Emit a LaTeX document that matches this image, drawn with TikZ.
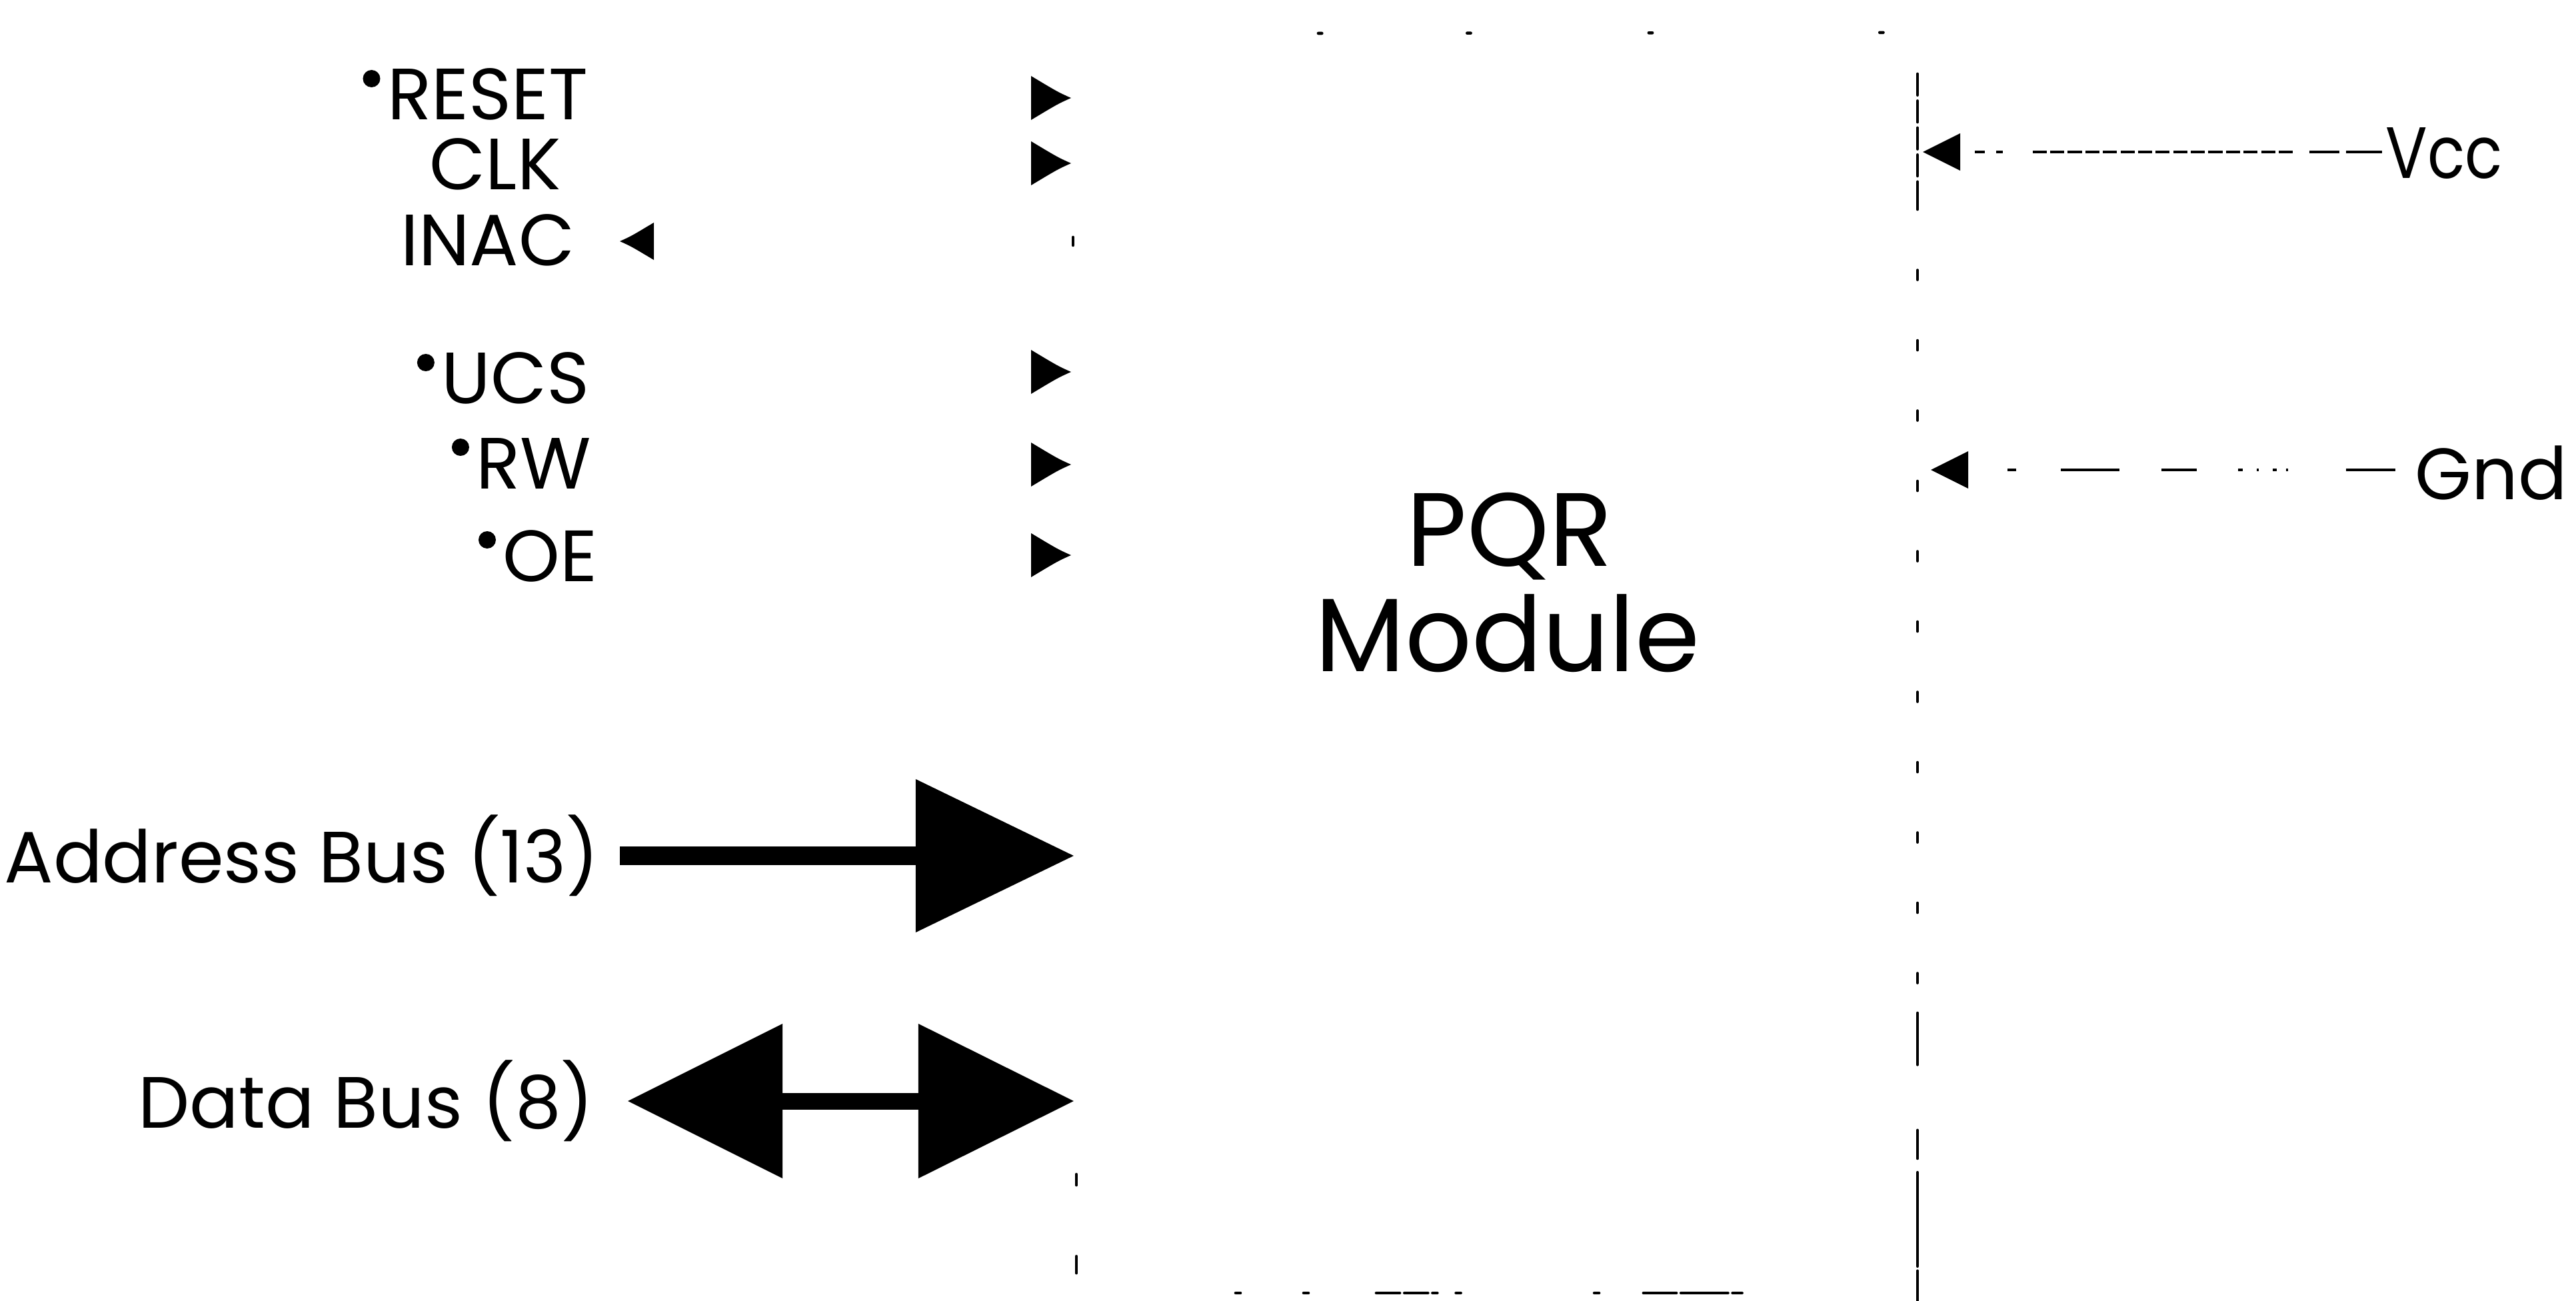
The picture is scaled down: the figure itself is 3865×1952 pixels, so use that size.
\documentclass[tikz,border=0pt]{standalone}
\usepackage{fontspec}
\setmainfont{Poppins}
\usetikzlibrary{arrows.meta}

\tikzset{
  sig/.style={anchor=base east, inner sep=0pt, font=\fontsize{31}{34}\selectfont},
  titletext/.style={anchor=base, inner sep=0pt, font=\fontsize{44.5}{50}\selectfont},
  modbox/.style={draw=none, inner sep=0pt, minimum width=12.65cm, minimum height=18.95cm},
  edge/.style={line width=1.3pt, line cap=round},
  pinin/.pic={\fill (0,0) .. controls (-20,-9) .. (-60,-33) -- (-60,33) .. controls (-20,9) .. (0,0) -- cycle;},
  lowdot/.style={fill=black},
  addrbus/.style={line width=0.27cm, -{Triangle[length=2.37cm, width=2.3cm, line width=0pt]}},
  databus/.style={line width=0.25cm, {Triangle[length=2.32cm, width=2.32cm, line width=0pt]}-{Triangle[length=2.33cm, width=2.32cm, line width=0pt]}},
  power/.style={line width=1.2pt, -{Triangle[length=0.56cm, width=0.56cm, line width=0pt]}},
}

\begin{document}
\begin{tikzpicture}[x=0.01cm, y=-0.01cm]
\useasboundingbox (0,0) rectangle (3865,1952);

% module body; its outline shows only as broken traces
\node[modbox] (module) at (2244.5,997.5) {};
\node[titletext] (pqr) at (2265,850) {PQR};
\node[titletext] (modname) at (2262,1007) {Module};

% top edge traces
\draw[edge, dash pattern=on 1.5pt off 62pt on 1.5pt off 76pt on 1.5pt off 97pt on 1.5pt off 200pt]
  (1978,50) -- (module.north east);
% right edge
\coordinate (r0) at (2877,111);
\coordinate (r1) at (2877,300);
\coordinate (r2) at (2877,1520);
\coordinate (r3) at (2877,1952);
\draw[edge, dash pattern=on 9pt off 2.5pt] (r0) -- (r1);
\draw[edge, dash pattern=on 4pt off 26pt] (r1) -- (r2);
\draw[edge, dash pattern=on 22pt off 28pt on 12pt off 6pt on 40pt off 2pt on 30pt off 3pt] (r2) -- (r3);
% left edge traces
\draw[edge] (1610,356) -- (1610,368);
\draw[edge] (1615,1762) -- (1615,1778);
\draw[edge] (1615,1885) -- (1615,1910);
% bottom edge traces
\draw[edge, dash pattern=on 2pt off 27pt on 2pt off 29pt on 10pt off 2pt on 10pt off 2pt on 2pt off 8pt on 2pt off 57pt on 2pt off 19pt on 14pt off 2pt on 20pt off 2pt on 4pt off 300pt]
  (1854,1940) -- (module.south east |- 0,1940);

% control signals (base line, right edge)
\node[sig] (reset) at (883,180) {RESET};
\node[sig] (clk)   at (842,285) {CLK};
\node[sig] (inac)  at (863,399) {INAC};
\node[sig] (ucs)   at (885,606) {UCS};
\node[sig] (rw)    at (888,733) {RW};
\node[sig] (oe)    at (897,872) {OE};

% active-low marks
\foreach \s in {reset, ucs, rw, oe}
  \fill[lowdot] ([shift={(-23,-62)}]\s.base west) circle (13);

% pin arrowheads on the module side
\pic at (1607,147) {pinin};
\pic at (1607,245) {pinin};
\pic at (1607,558) {pinin};
\pic at (1607,697) {pinin};
\pic at (1607,833) {pinin};
\pic[rotate=180, scale=0.85] at (930,362) {pinin};

% buses
\node[sig, anchor=base east] (addr) at (900,1324) {Address Bus (13)};
\node[sig, anchor=base east] (data) at (892,1692) {Data Bus (8)};
\coordinate (addr-out) at (addr.east |- 0,1284);
\coordinate (data-out) at (data.east |- 0,1652);
\draw[addrbus, shorten <=0.3cm] (addr-out) -- (module.west |- addr-out);
\draw[databus, shorten <=0.5cm] (data-out) -- (module.west |- data-out);

% supply pins
\node[sig, anchor=base west] (vcc) at (3579,268) {\scalebox{0.85}[1]{Vcc}};
\node[sig, anchor=base west] (gnd) at (3623,750) {Gnd};
\coordinate (vcc-in) at (vcc.west |- 0,228);
\coordinate (gnd-in) at (gnd.west |- 0,705);
\draw[power, shorten <=0.05cm, shorten >=0.07cm,
      dash pattern=on 15.4pt off 2.8pt on 12.8pt off 7.1pt
        on 6pt off 1.5pt on 6pt off 1.5pt on 6pt off 1.5pt on 6pt off 1.5pt on 6pt off 1.5pt
        on 6pt off 1.5pt on 6pt off 1.5pt on 6pt off 1.5pt on 6pt off 1.5pt on 6pt off 1.5pt
        on 6pt off 1.5pt on 6pt off 1.5pt on 6pt off 1.5pt on 6pt off 1.5pt on 6pt off 12.8pt
        on 2.8pt off 4.8pt on 4.3pt off 20pt]
  (vcc-in) -- (module.east |- vcc-in);
\draw[power, shorten <=0.29cm, shorten >=0.19cm,
      dash pattern=on 21pt off 24.7pt on 1pt off 4pt on 1.5pt off 6pt on 1pt off 6pt on 2pt off 17.5pt
        on 15pt off 18pt on 25pt off 19pt on 3.7pt off 40pt]
  (gnd-in) -- (module.east |- gnd-in);
\end{tikzpicture}
\end{document}
